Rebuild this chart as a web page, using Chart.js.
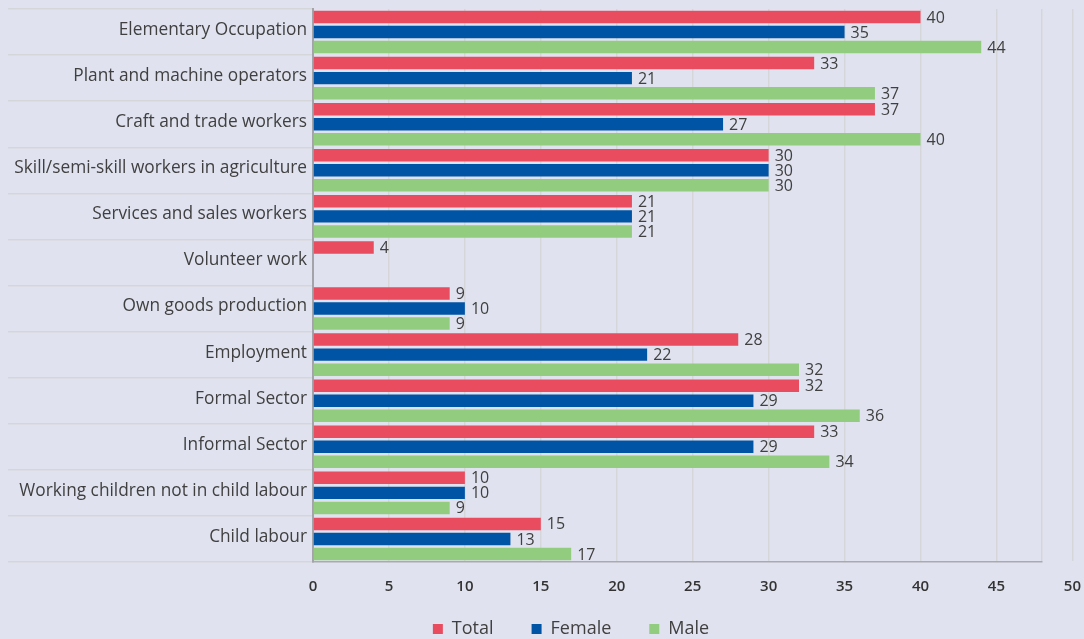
<!DOCTYPE html>
<html>
<head>
<meta charset="utf-8">
<script src="https://cdn.jsdelivr.net/npm/chart.js@4/dist/chart.umd.min.js"></script>
<style>
  html, body { margin: 0; padding: 0; background: #e0e3ef; overflow: hidden; }
  #wrap { width: 1084px; height: 639px; }
  canvas { display: block; }
</style>
</head>
<body>
<div id="wrap"><canvas id="workChart" width="1084" height="639"></canvas></div>
<script>
// Categorias e valores (%)
const categories = [
  "Elementary Occupation",
  "Plant and machine operators",
  "Craft and trade workers",
  "Skill/semi-skill workers in agriculture",
  "Services and sales workers",
  "Volunteer work",
  "Own goods production",
  "Employment",
  "Formal Sector",
  "Informal Sector",
  "Working children not in child labour",
  "Child labour"
];
const totalValues  = [40, 33, 37, 30, 21, 4, 9, 28, 32, 33, 10, 15];
const femaleValues = [35, 21, 27, 30, 21, null, 10, 22, 29, 29, 10, 13];
const maleValues   = [44, 37, 40, 30, 21, null, 9, 32, 36, 34, 9, 17];
const xTickLabels  = [0, 5, 10, 15, 20, 25, 30, 35, 40, 45, 50];
const xAxisMax = 48;

const textColor = '#404040';
const fontFamily = '"Open Sans", "Noto Sans", sans-serif';

// Rótulos com o valor no fim de cada barra
const valueLabels = {
  id: 'valueLabels',
  afterDatasetsDraw(chart) {
    const ctx = chart.ctx;
    ctx.save();
    ctx.font = '16px ' + fontFamily;
    ctx.fillStyle = textColor;
    ctx.textBaseline = 'middle';
    ctx.textAlign = 'left';
    chart.data.datasets.forEach((ds, i) => {
      chart.getDatasetMeta(i).data.forEach((bar, j) => {
        const v = ds.data[j];
        if (v === null || v === undefined) return;
        ctx.fillText(v, bar.x + 6, bar.y + 1);
      });
    });
    ctx.restore();
  }
};

// Legenda: altura fixa e deslocada para a posição do original
const legendPlacement = {
  id: 'legendPlacement',
  beforeInit(chart) {
    const legend = chart.legend;
    if (!legend) return;
    const fit = legend.fit;
    legend.fit = function () {
      fit.call(this);
      this.height = 41;
    };
  },
  afterLayout(chart) {
    const legend = chart.legend;
    if (!legend) return;
    legend.top -= 16;          // só o topo: a parte de baixo continua no fim do canvas
    legend.left += 46;
    legend.right += 46;
  }
};

document.addEventListener("DOMContentLoaded", function () {
  const ctx = document.getElementById('workChart').getContext('2d');

  new Chart(ctx, {
    type: 'bar',
    data: {
      labels: categories,
      datasets: [
        { label: 'Total',  data: totalValues,  backgroundColor: '#e94b5f' },
        { label: 'Female', data: femaleValues, backgroundColor: '#0054a6' },
        { label: 'Male',   data: maleValues,   backgroundColor: '#92cc7e' }
      ]
    },
    options: {
      indexAxis: 'y',
      responsive: false,
      animation: false,
      devicePixelRatio: 1,
      categoryPercentage: 0.98,
      barPercentage: 0.83,
      layout: { padding: { top: 9, right: 42, left: 8, bottom: 0 } },
      scales: {
        x: {
          min: 0,
          max: xAxisMax,
          afterBuildTicks: (scale) => {
            const vals = xTickLabels.concat([xAxisMax]).sort((a, b) => a - b);
            scale.ticks = vals.map(v => ({ value: v }));
          },
          afterFit: (scale) => {
            scale.height = 36;
            scale.paddingLeft = 0;
            scale.paddingRight = 0;
          },
          grid: { color: '#d5d6da', lineWidth: 1.5, drawTicks: false },
          border: { display: true, color: '#a9aab0', width: 1.5 },
          ticks: {
            autoSkip: false,
            maxRotation: 0,
            padding: 16,
            color: '#333333',
            font: { family: fontFamily, size: 15, weight: '600' },
            callback: (value) => xTickLabels.includes(value) ? value : ''
          }
        },
        y: {
          afterFit: (scale) => { scale.width = 305; },
          grid: {
            drawOnChartArea: false,
            drawTicks: true,
            tickLength: 305,
            color: '#d5d6da',
            lineWidth: 1.5
          },
          border: { display: true, color: '#a3a4aa', width: 2 },
          ticks: {
            padding: -299,
            labelOffset: -2,
            color: textColor,
            font: { family: fontFamily, size: 17.3 }
          }
        }
      },
      plugins: {
        legend: {
          position: 'bottom',
          labels: {
            boxWidth: 10,
            boxHeight: 10,
            padding: 38,
            color: textColor,
            font: { family: fontFamily, size: 18 }
          }
        },
        tooltip: { enabled: false }
      }
    },
    plugins: [valueLabels, legendPlacement]
  });
});
</script>
</body>
</html>
